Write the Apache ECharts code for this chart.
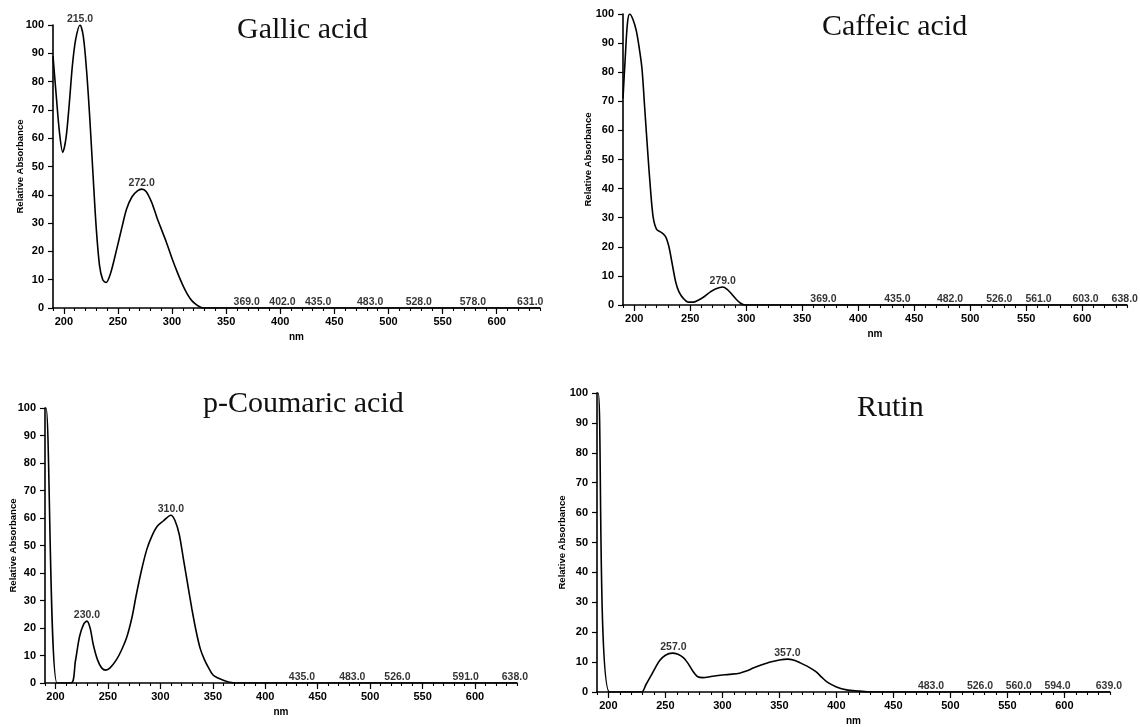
<!DOCTYPE html>
<html><head><meta charset="utf-8">
<script src="https://cdn.jsdelivr.net/npm/echarts@6/dist/echarts.min.js"></script>
<style>html,body{margin:0;padding:0;background:#fff}#c{width:1140px;height:727px}</style>
</head><body><div id="c"></div>
<script>
// ---- data (nm, relative absorbance) ----
const gallic = [[190,89],[193,75],[196,62],[199,55],[202,60],[205,72],[208,86],[211,95],[215,100],[218,96],[221,84],[224,67],[227,47],[230,28],[233,15],[236,10],[239,9],[243,12],[249,21],[254,29],[258,35],[263,39.3],[268,41.4],[272,42],[276,41.2],[281,37.5],[286,32],[291,27],[295,23],[300,17.5],[305,12.5],[310,8],[314,5],[318,2.7],[323,1],[327,0.2],[332,0],[640,0]];
const gallicPeaks = [[215,100],[272,42],[369,0],[402,0],[435,0],[483,0],[528,0],[578,0],[631,0]];

const caffeic = [[190,71],[192,85],[194,97],[196,100],[199,98],[202,94],[205,87],[207,81],[209.5,67],[212,53],[214.5,40],[217,30],[220,26],[224,25],[228,23.5],[231,20],[234,14],[237,8],[240,4.5],[244,2.2],[248,1],[253,1],[258,1.8],[263,3],[268,4.5],[273,5.6],[279,6.2],[283,5.4],[287,3.8],[291,2],[295,0.6],[299,0],[640,0]];
const caffeicPeaks = [[279,6.2],[369,0],[435,0],[482,0],[526,0],[561,0],[603,0],[638,0]];

const coumaric = [[190,100],[191,100],[201.5,0],[215,0],[219,8],[223,17],[227,21.5],[230,22.5],[233,20],[236,14],[240,8.5],[244,5.5],[248,4.7],[252,5.5],[258,8.4],[263,12],[268,16.7],[273,24],[277,32],[282,41],[287,48.5],[292,53.5],[297,57],[303,59],[310,61],[314,59],[318,54],[322,45],[326,36],[330,27],[334,19],[338,12.5],[342,8.5],[346,5.5],[350,3],[355,1.8],[360,1],[366,0.3],[372,0],[640,0]];
const coumaricPeaks = [[230,22.5],[310,61],[435,0],[483,0],[526,0],[591,0],[638,0]];

const rutin = [[190,100],[191,100],[201,0],[229,0],[233,2.5],[237,5.2],[241,8],[245,10.5],[250,12.3],[256,13],[261,12.6],[266,11.4],[270,9.5],[274,7],[278,5.2],[283,4.8],[290,5.2],[298,5.6],[306,5.9],[315,6.3],[321,7],[327,8],[334,9],[342,10],[350,10.7],[357,11],[363,10.6],[368,9.8],[375,8.5],[382,6.8],[387,5],[392,3.3],[400,1.7],[409,0.7],[420,0.3],[430,0],[640,0]];
const rutinPeaks = [[257,13],[357,11],[483,0],[526,0],[560,0],[594,0],[639,0]];

const titles = ['Gallic acid','Caffeic acid','p-Coumaric acid','Rutin'];
const majorTicks = [200,250,300,350,400,450,500,550,600];
const minorTicks = [190,200,210,220,230,240,250,260,270,280,290,300,310,320,330,340,350,360,370,380,390,400,410,420,430,440,450,460,470,480,490,500,510,520,530,540,550,560,570,580,590,600,610,620,630,640];
const yName = 'Relative Absorbance';
const xName = 'nm';

// ---- layout ----
const panels = [
  {data:gallic, peaks:gallicPeaks, grid:{left:53,top:25,width:487,height:283}, tl:{left:237,top:15}, yGap:28},
  {data:caffeic, peaks:caffeicPeaks, grid:{left:623,top:14,width:504,height:291}, tl:{left:822,top:12}, yGap:30},
  {data:coumaric, peaks:coumaricPeaks, grid:{left:45,top:408,width:472,height:275}, tl:{left:203,top:389}, yGap:27},
  {data:rutin, peaks:rutinPeaks, grid:{left:597,top:393,width:513,height:299}, tl:{left:857,top:393}, yGap:30}
];

const smallFont = {fontFamily:'Liberation Sans', color:'#000'};
const option = {animation:false, backgroundColor:'#fff', title:[], grid:[], xAxis:[], yAxis:[], series:[]};

panels.forEach((p,i)=>{
  option.title.push({text:titles[i], left:p.tl.left, top:p.tl.top, padding:0,
    textStyle:{fontFamily:'Liberation Serif', fontSize:30, fontWeight:'normal', color:'#111'}});
  option.grid.push(Object.assign({containLabel:false, outerBoundsMode:'none'}, p.grid));
  option.xAxis.push({gridIndex:i, type:'value', min:190, max:640,
    name:xName, nameLocation:'middle', nameGap:24, nameMoveOverlap:false,
    nameTextStyle:Object.assign({fontSize:10, fontWeight:'bold'}, smallFont),
    axisLine:{show:true, onZero:false, lineStyle:{color:'#000', width:1.6}},
    axisTick:{show:true, customValues:majorTicks, length:6, lineStyle:{color:'#000', width:1.2}},
    axisLabel:Object.assign({show:true, customValues:majorTicks, margin:8, fontSize:11, fontWeight:'bold'}, smallFont),
    splitLine:{show:false}});
  option.xAxis.push({gridIndex:i, type:'value', min:190, max:640, position:'bottom',
    axisLine:{show:false}, axisTick:{show:true, customValues:minorTicks, length:3, lineStyle:{color:'#000', width:1.1}},
    axisLabel:{show:false}, splitLine:{show:false}});
  option.yAxis.push({gridIndex:i, type:'value', min:0, max:100, interval:10,
    name:yName, nameLocation:'middle', nameGap:p.yGap, nameMoveOverlap:false,
    nameTextStyle:Object.assign({fontSize:9.5, fontWeight:'bold'}, smallFont),
    axisLine:{show:true, onZero:false, lineStyle:{color:'#000', width:1.6}},
    axisTick:{show:true, length:5, lineStyle:{color:'#000', width:1.2}},
    axisLabel:Object.assign({show:true, margin:9, fontSize:11, fontWeight:'bold'}, smallFont),
    splitLine:{show:false}});
  option.series.push({type:'line', xAxisIndex:2*i, yAxisIndex:i, data:p.data, smooth:0.3,
    symbol:'none', lineStyle:{color:'#000', width:1.6}, clip:true});
  option.series.push({type:'scatter', xAxisIndex:2*i, yAxisIndex:i, data:p.peaks, symbolSize:1,
    itemStyle:{color:'rgba(0,0,0,0)'},
    label:Object.assign({show:true, position:'top', distance:0, fontSize:10.5, fontWeight:'bold',
      formatter:(q)=>q.value[0].toFixed(1)}, smallFont)});
});

const chart = echarts.init(document.getElementById('c'), null, {renderer:'canvas'});
chart.setOption(option);
</script></body></html>
